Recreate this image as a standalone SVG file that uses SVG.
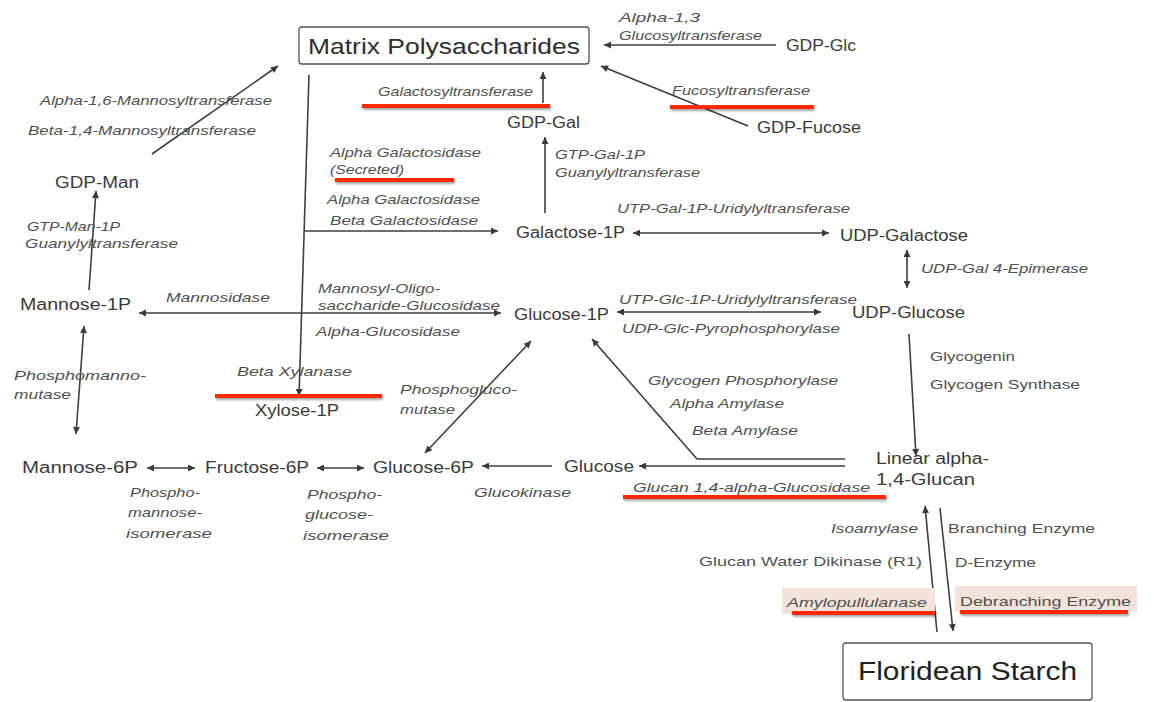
<svg xmlns="http://www.w3.org/2000/svg" width="1174" height="702" viewBox="0 0 1174 702">
  <defs>
    <marker id="ah" viewBox="0 0 10 10" refX="10" refY="5" markerWidth="9" markerHeight="7" markerUnits="userSpaceOnUse" orient="auto-start-reverse">
      <path d="M0,0 L10,5 L0,10 Z" fill="#3a3a3a"/>
    </marker>
    <filter id="sh" x="-5%" y="-100%" width="110%" height="300%">
      <feDropShadow dx="1" dy="2" stdDeviation="1.2" flood-color="#000" flood-opacity="0.35"/>
    </filter>
    <style>
      .node { font-family: "Liberation Sans", Arial, sans-serif; font-size: 16px; fill: #3a3a3a; }
      .lab { font-family: "Liberation Sans", Arial, sans-serif; font-size: 13.5px; font-style: italic; fill: #505050; }
      .labu { font-family: "Liberation Sans", Arial, sans-serif; font-size: 13.5px; fill: #505050; }
      .box { fill: #fff; stroke: #555; stroke-width: 1.3; }
      .ln { fill: none; stroke: #3f3f3f; stroke-width: 1.6; }
      .one { marker-end: url(#ah); }
      .two { marker-start: url(#ah); marker-end: url(#ah); }
      .red { fill: #ff2a00; filter: url(#sh); }
      .hl { fill: #f3e3da; }
    </style>
  </defs>

  <rect width="1174" height="702" fill="#ffffff"/>

  <!-- connectors -->
  <g id="connectors">
    <line class="ln one" x1="776" y1="45" x2="604" y2="45"/>
    <line class="ln one" x1="543" y1="103" x2="543" y2="72"/>
    <line class="ln one" x1="748" y1="126" x2="601" y2="66"/>
    <line class="ln one" x1="152" y1="154" x2="278" y2="66"/>
    <line class="ln one" x1="89" y1="290" x2="96" y2="191"/>
    <line class="ln one" x1="309" y1="75" x2="299" y2="396"/>
    <line class="ln one" x1="304" y1="231" x2="498" y2="231"/>
    <line class="ln one" x1="302" y1="313" x2="139" y2="313"/>
    <line class="ln one" x1="302" y1="313" x2="501" y2="313"/>
    <line class="ln one" x1="545" y1="213" x2="545" y2="137"/>
    <line class="ln two" x1="633" y1="233" x2="829" y2="233"/>
    <line class="ln two" x1="907" y1="250" x2="907" y2="288"/>
    <line class="ln two" x1="617" y1="312" x2="821" y2="312"/>
    <line class="ln one" x1="909" y1="334" x2="916" y2="456"/>
    <polyline class="ln one" points="845,459 697,459 592,339"/>
    <line class="ln one" x1="845" y1="466" x2="639" y2="466"/>
    <line class="ln one" x1="552" y1="466" x2="482" y2="466"/>
    <line class="ln two" x1="531" y1="341" x2="425" y2="453"/>
    <line class="ln two" x1="317" y1="468" x2="364" y2="468"/>
    <line class="ln two" x1="147" y1="468" x2="195" y2="468"/>
    <line class="ln two" x1="84" y1="326" x2="76" y2="434"/>
    <line class="ln one" x1="937" y1="632" x2="925" y2="506"/>
    <line class="ln one" x1="940" y1="508" x2="953" y2="631"/>
  </g>

  <!-- highlight backgrounds -->
  <rect class="hl" x="782" y="588" width="153" height="26"/>
  <rect class="hl" x="955" y="586" width="182" height="26"/>

  <!-- nodes -->
  <g id="matrix">
    <rect class="box" x="299" y="27" width="290" height="37" rx="3"/>
    <text x="308" y="54" style="font-family:'Liberation Sans',Arial,sans-serif;font-size:22px;fill:#2e2e2e" textLength="272" lengthAdjust="spacingAndGlyphs">Matrix Polysaccharides</text>
  </g>
  <g id="floridean">
    <rect class="box" x="843" y="643" width="249" height="57" rx="3"/>
    <text x="858" y="680" style="font-family:'Liberation Sans',Arial,sans-serif;font-size:26px;fill:#222" textLength="219" lengthAdjust="spacingAndGlyphs">Floridean Starch</text>
  </g>
  <g id="gdp-glc"><text class="node" x="786" y="51" textLength="70" lengthAdjust="spacingAndGlyphs">GDP-Glc</text></g>
  <g id="gdp-gal"><text class="node" x="507" y="128" textLength="73" lengthAdjust="spacingAndGlyphs">GDP-Gal</text></g>
  <g id="gdp-fucose"><text class="node" x="757" y="133" textLength="104" lengthAdjust="spacingAndGlyphs">GDP-Fucose</text></g>
  <g id="gdp-man"><text class="node" x="55" y="188" textLength="84" lengthAdjust="spacingAndGlyphs">GDP-Man</text></g>
  <g id="galactose-1p"><text class="node" x="516" y="238" textLength="109" lengthAdjust="spacingAndGlyphs">Galactose-1P</text></g>
  <g id="udp-galactose"><text class="node" x="840" y="241" textLength="128" lengthAdjust="spacingAndGlyphs">UDP-Galactose</text></g>
  <g id="udp-glucose"><text class="node" x="852" y="318" textLength="113" lengthAdjust="spacingAndGlyphs">UDP-Glucose</text></g>
  <g id="glucose-1p"><text class="node" x="514" y="320" textLength="95" lengthAdjust="spacingAndGlyphs">Glucose-1P</text></g>
  <g id="mannose-1p"><text class="node" x="20" y="310" textLength="111" lengthAdjust="spacingAndGlyphs">Mannose-1P</text></g>
  <g id="xylose-1p"><text class="node" x="255" y="416" textLength="84" lengthAdjust="spacingAndGlyphs">Xylose-1P</text></g>
  <g id="mannose-6p"><text class="node" x="22" y="473" textLength="116" lengthAdjust="spacingAndGlyphs">Mannose-6P</text></g>
  <g id="fructose-6p"><text class="node" x="205" y="473" textLength="104" lengthAdjust="spacingAndGlyphs">Fructose-6P</text></g>
  <g id="glucose-6p"><text class="node" x="373" y="473" textLength="101" lengthAdjust="spacingAndGlyphs">Glucose-6P</text></g>
  <g id="glucose"><text class="node" x="564" y="472" textLength="70" lengthAdjust="spacingAndGlyphs">Glucose</text></g>
  <g id="linear-glucan">
    <text class="node" x="876" y="464" textLength="113" lengthAdjust="spacingAndGlyphs">Linear alpha-</text>
    <text class="node" x="876" y="485" textLength="99" lengthAdjust="spacingAndGlyphs">1,4-Glucan</text>
  </g>

  <!-- enzyme labels -->
  <g id="labels">
    <text class="lab" x="619" y="22" textLength="81" lengthAdjust="spacingAndGlyphs">Alpha-1,3</text>
    <text class="lab" x="619" y="40" textLength="143" lengthAdjust="spacingAndGlyphs">Glucosyltransferase</text>
    <text class="lab" x="378" y="96" textLength="155" lengthAdjust="spacingAndGlyphs">Galactosyltransferase</text>
    <text class="lab" x="672" y="95" textLength="138" lengthAdjust="spacingAndGlyphs">Fucosyltransferase</text>
    <text class="lab" x="40" y="105" textLength="232" lengthAdjust="spacingAndGlyphs">Alpha-1,6-Mannosyltransferase</text>
    <text class="lab" x="28" y="135" textLength="228" lengthAdjust="spacingAndGlyphs">Beta-1,4-Mannosyltransferase</text>
    <text class="lab" x="330" y="157" textLength="151" lengthAdjust="spacingAndGlyphs">Alpha Galactosidase</text>
    <text class="lab" x="330" y="174" textLength="74" lengthAdjust="spacingAndGlyphs">(Secreted)</text>
    <text class="lab" x="327" y="204" textLength="153" lengthAdjust="spacingAndGlyphs">Alpha Galactosidase</text>
    <text class="lab" x="330" y="225" textLength="148" lengthAdjust="spacingAndGlyphs">Beta  Galactosidase</text>
    <text class="lab" x="555" y="159" textLength="90" lengthAdjust="spacingAndGlyphs">GTP-Gal-1P</text>
    <text class="lab" x="555" y="177" textLength="145" lengthAdjust="spacingAndGlyphs">Guanylyltransferase</text>
    <text class="lab" x="617" y="213" textLength="233" lengthAdjust="spacingAndGlyphs">UTP-Gal-1P-Uridylyltransferase</text>
    <text class="lab" x="921" y="273" textLength="167" lengthAdjust="spacingAndGlyphs">UDP-Gal 4-Epimerase</text>
    <text class="lab" x="27" y="231" textLength="93" lengthAdjust="spacingAndGlyphs">GTP-Man-1P</text>
    <text class="lab" x="25" y="248" textLength="153" lengthAdjust="spacingAndGlyphs">Guanylyltransferase</text>
    <text class="lab" x="166" y="302" textLength="104" lengthAdjust="spacingAndGlyphs">Mannosidase</text>
    <text class="lab" x="318" y="293" textLength="122" lengthAdjust="spacingAndGlyphs">Mannosyl-Oligo-</text>
    <text class="lab" x="318" y="310" textLength="182" lengthAdjust="spacingAndGlyphs">saccharide-Glucosidase</text>
    <text class="lab" x="316" y="336" textLength="144" lengthAdjust="spacingAndGlyphs">Alpha-Glucosidase</text>
    <text class="lab" x="619" y="304" textLength="238" lengthAdjust="spacingAndGlyphs">UTP-Glc-1P-Uridylyltransferase</text>
    <text class="lab" x="622" y="333" textLength="218" lengthAdjust="spacingAndGlyphs">UDP-Glc-Pyrophosphorylase</text>
    <text class="labu" x="930" y="361" textLength="85" lengthAdjust="spacingAndGlyphs">Glycogenin</text>
    <text class="labu" x="930" y="389" textLength="150" lengthAdjust="spacingAndGlyphs">Glycogen Synthase</text>
    <text class="lab" x="648" y="385" textLength="190" lengthAdjust="spacingAndGlyphs">Glycogen Phosphorylase</text>
    <text class="lab" x="670" y="408" textLength="114" lengthAdjust="spacingAndGlyphs">Alpha Amylase</text>
    <text class="lab" x="692" y="435" textLength="106" lengthAdjust="spacingAndGlyphs">Beta Amylase</text>
    <text class="lab" x="14" y="380" textLength="132" lengthAdjust="spacingAndGlyphs">Phosphomanno-</text>
    <text class="lab" x="14" y="399" textLength="57" lengthAdjust="spacingAndGlyphs">mutase</text>
    <text class="lab" x="237" y="376" textLength="115" lengthAdjust="spacingAndGlyphs">Beta Xylanase</text>
    <text class="lab" x="400" y="394" textLength="117" lengthAdjust="spacingAndGlyphs">Phosphogluco-</text>
    <text class="lab" x="400" y="414" textLength="55" lengthAdjust="spacingAndGlyphs">mutase</text>
    <text class="lab" x="633" y="492" textLength="237" lengthAdjust="spacingAndGlyphs">Glucan 1,4-alpha-Glucosidase</text>
    <text class="lab" x="474" y="497" textLength="97" lengthAdjust="spacingAndGlyphs">Glucokinase</text>
    <text class="lab" x="130" y="497" textLength="70" lengthAdjust="spacingAndGlyphs">Phospho-</text>
    <text class="lab" x="128" y="517" textLength="74" lengthAdjust="spacingAndGlyphs">mannose-</text>
    <text class="lab" x="126" y="538" textLength="86" lengthAdjust="spacingAndGlyphs">isomerase</text>
    <text class="lab" x="307" y="499" textLength="75" lengthAdjust="spacingAndGlyphs">Phospho-</text>
    <text class="lab" x="305" y="519" textLength="68" lengthAdjust="spacingAndGlyphs">glucose-</text>
    <text class="lab" x="303" y="540" textLength="86" lengthAdjust="spacingAndGlyphs">isomerase</text>
    <text class="lab" x="831" y="533" textLength="87" lengthAdjust="spacingAndGlyphs">Isoamylase</text>
    <text class="labu" x="948" y="533" textLength="147" lengthAdjust="spacingAndGlyphs">Branching Enzyme</text>
    <text class="labu" x="699" y="566" textLength="223" lengthAdjust="spacingAndGlyphs">Glucan Water Dikinase (R1)</text>
    <text class="labu" x="955" y="567" textLength="81" lengthAdjust="spacingAndGlyphs">D-Enzyme</text>
    <text class="lab" x="787" y="607" textLength="140" lengthAdjust="spacingAndGlyphs">Amylopullulanase</text>
    <text class="labu" x="960" y="606" textLength="171" lengthAdjust="spacingAndGlyphs">Debranching Enzyme</text>
  </g>

  <!-- red emphasis underlines -->
  <g id="underlines">
    <rect class="red" x="362" y="104" width="188" height="4"/>
    <rect class="red" x="670" y="105" width="144" height="4"/>
    <rect class="red" x="335" y="178" width="119" height="4"/>
    <rect class="red" x="215" y="394" width="167" height="4"/>
    <rect class="red" x="623" y="495" width="263" height="4"/>
    <rect class="red" x="792" y="611" width="143" height="4"/>
    <rect class="red" x="960" y="610" width="168" height="4"/>
  </g>
</svg>
